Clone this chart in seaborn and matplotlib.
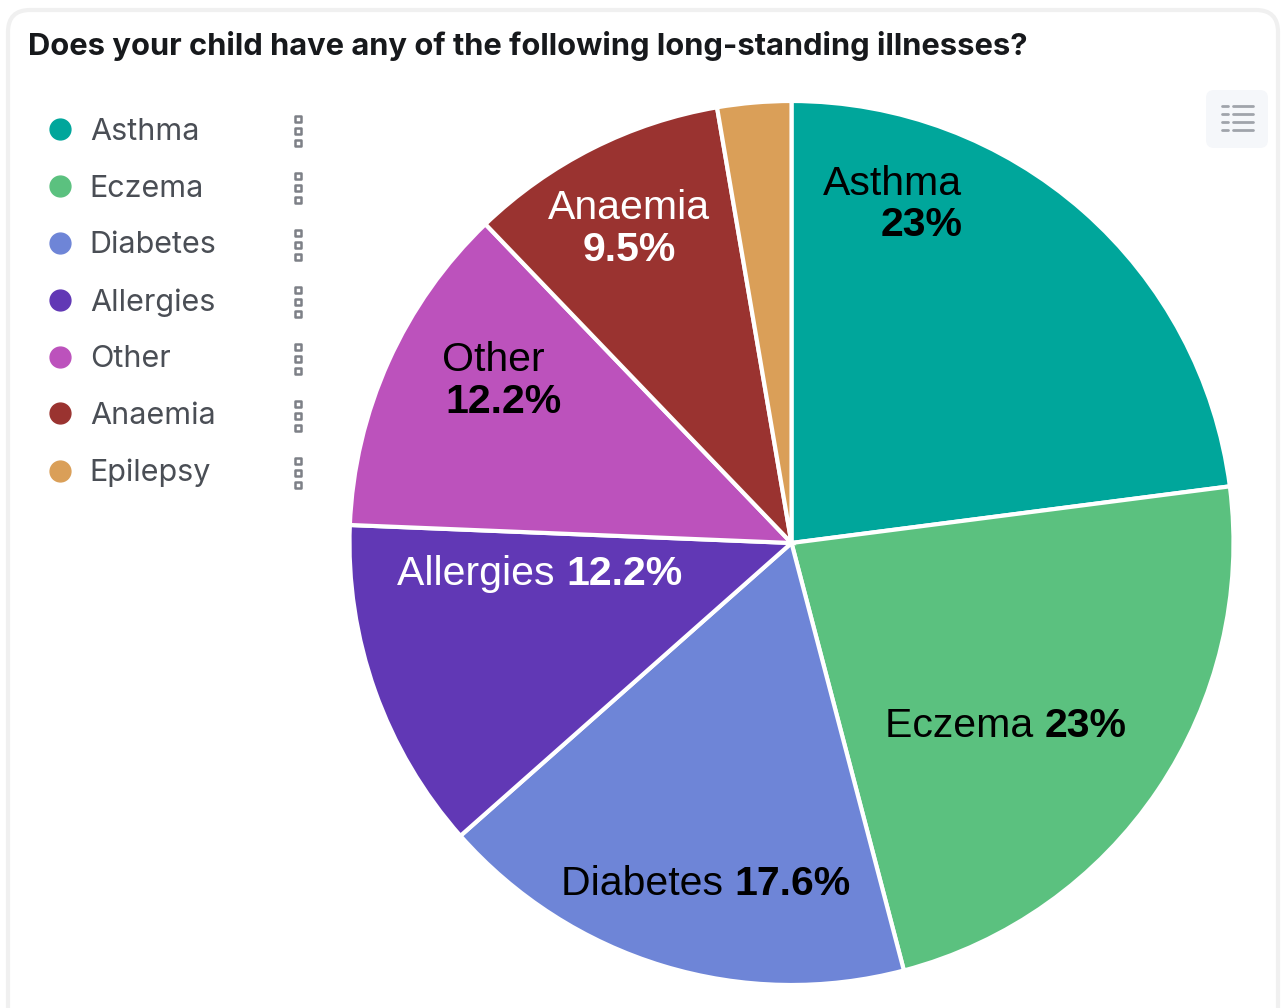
import matplotlib
matplotlib.use('Agg')
import matplotlib.pyplot as plt
import seaborn as sns
from matplotlib.lines import Line2D
from matplotlib.patches import FancyBboxPatch

W, H = 1286, 1008

categories = ['Asthma', 'Eczema', 'Diabetes', 'Allergies', 'Other', 'Anaemia', 'Epilepsy']
shares = [23, 23, 17.6, 12.2, 12.2, 9.5, 2.7]
share_labels = ['23%', '23%', '17.6%', '12.2%', '12.2%', '9.5%']
colors = ['#00A69B', '#5BC17F', '#6E85D7', '#6138B5', '#BC52BC', '#9A3330', '#DA9F58']

sns.set_theme(style='white')
plt.rcParams['font.family'] = ['Inter', 'DejaVu Sans']

palette = sns.color_palette(colors)

fig = plt.figure(figsize=(W / 100, H / 100), dpi=100)
ax = fig.add_axes([0, 0, 1, 1])


def py(y):
    # picture rows count from the top
    return H - y


# card behind everything
ax.add_patch(FancyBboxPatch((8, py(1030)), 1270, 1020, boxstyle='round,pad=0,rounding_size=22',
                            facecolor='white', edgecolor='#F0F0F0', linewidth=3, zorder=0))

wedges, _ = ax.pie(shares, colors=palette, startangle=90, counterclock=False,
                   center=(791.5, py(543)), radius=442, frame=True,
                   wedgeprops={'edgecolor': 'white', 'linewidth': 3})
ax.set_xlim(0, W)
ax.set_ylim(0, H)
ax.set_aspect('equal')
ax.axis('off')

ax.text(28, py(46), 'Does your child have any of the following long-standing illnesses?',
        fontsize=22.25, fontweight='bold', color='#17191C', va='center', ha='left')

# slice labels
label_font = ['Liberation Sans', 'DejaVu Sans']
label_size = 29.5


def stacked(cx_name, cx_val, yn, yv, name, value, color):
    ax.text(cx_name, py(yn), name, family=label_font, fontsize=label_size, color=color,
            ha='center', va='center')
    ax.text(cx_val, py(yv), value, family=label_font, fontsize=label_size, color=color,
            fontweight='bold', ha='center', va='center')


def inline(split, y, name, value, color):
    ax.text(split, py(y), name + ' ', family=label_font, fontsize=label_size, color=color,
            ha='right', va='center')
    ax.text(split, py(y), value, family=label_font, fontsize=label_size, color=color,
            fontweight='bold', ha='left', va='center')


stacked(892, 922, 184, 225, categories[0], share_labels[0], 'black')
inline(1045, 726, categories[1], share_labels[1], 'black')
inline(734, 884, categories[2], share_labels[2], 'black')
inline(566, 574, categories[3], share_labels[3], 'white')
stacked(493, 504, 360, 402, categories[4], share_labels[4], 'black')
stacked(629, 629, 208, 250, categories[5], share_labels[5], 'white')

# legend
handles = [Line2D([0], [0], linestyle='none', marker='o', markersize=15, color=c, label=n)
           for c, n in zip(palette, categories)]
ax.legend(handles=handles, loc='upper left', bbox_to_anchor=(40 / W, 1 - 118 / H), frameon=False,
          fontsize=22, labelcolor='#4A4E55', labelspacing=0.94, handletextpad=0.33,
          handlelength=1.3, borderpad=0, borderaxespad=0)

# three small squares after each legend row
for i in range(len(categories)):
    yc = 131 + i * 57
    ax.scatter([298] * 3, [py(yc - 12), py(yc), py(yc + 12)], marker='s', s=19,
               facecolor='white', edgecolor='#7D8087', linewidth=1.8, zorder=3)

# table button, top right
ax.add_patch(FancyBboxPatch((1206, py(148)), 62, 58, boxstyle='round,pad=0,rounding_size=8',
                            facecolor='#F5F7FA', edgecolor='none', zorder=3))
for yi in [106, 114, 122, 130]:
    ax.plot([1222, 1228], [py(yi), py(yi)], color='#A0A4AB', lw=2, zorder=4)
    ax.plot([1233, 1253], [py(yi), py(yi)], color='#A0A4AB', lw=2, zorder=4)

fig.savefig('out.png', dpi=100)
